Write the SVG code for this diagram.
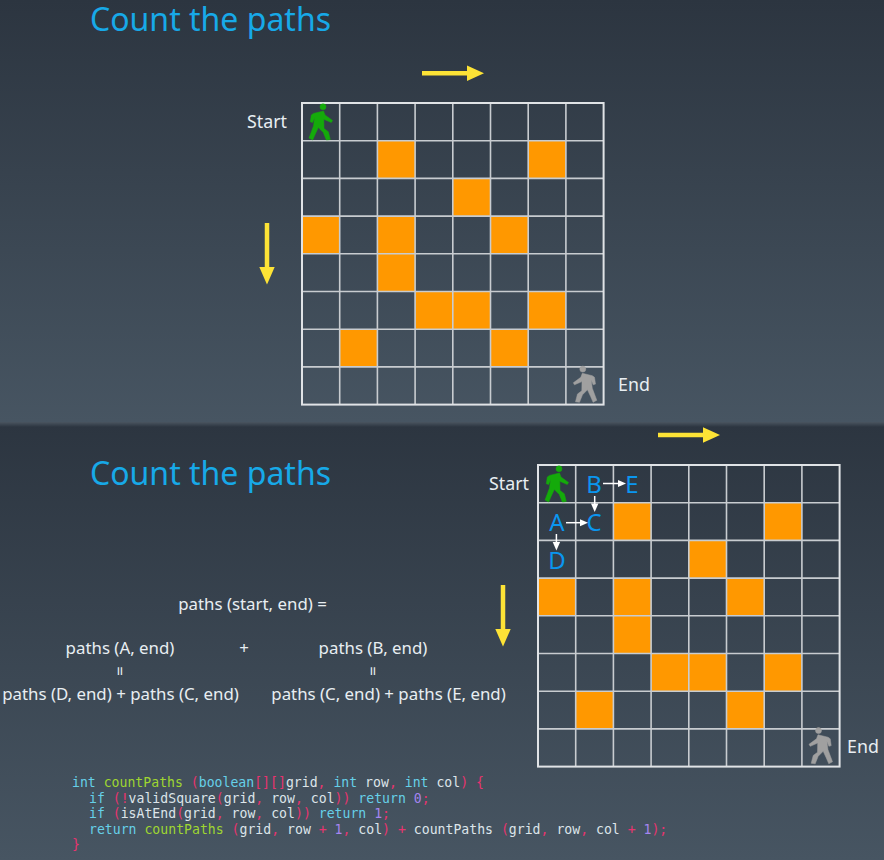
<svg xmlns="http://www.w3.org/2000/svg" width="884" height="860" viewBox="0 0 884 860">
<defs>
<linearGradient id="bg" x1="0" y1="0" x2="0" y2="1"><stop offset="0" stop-color="#2c3540"/><stop offset="1" stop-color="#475562"/></linearGradient>
<linearGradient id="edge" x1="0" y1="0" x2="0" y2="1"><stop offset="0" stop-color="#4a5560"/><stop offset="1" stop-color="#2c3540"/></linearGradient>
<g id="walker" stroke-width="0.500" stroke-linejoin="round">
<circle cx="21" cy="3.800" r="3"/>
<path d="M9.300 12 L11.500 10.400 L21.500 8 L23 12 L30.500 17.500 L29.300 19.500 L21.800 16.300 L22 25.500 L26.300 28.700 L28.300 36.500 L24.300 37 L21.300 29.500 L16.300 24.500 L13.300 31 L10.700 37 L7 35 L11.500 23 L12.600 14.800 L10.600 19.500 L8.300 18.800 Z"/>
</g>
<g id="grid">
<g class="o">
<rect x="75.400" y="37.700"/><rect x="226.200" y="37.700"/><rect x="150.800" y="75.400"/><rect x="0" y="113.100"/><rect x="75.400" y="113.100"/><rect x="188.500" y="113.100"/><rect x="75.400" y="150.800"/><rect x="113.100" y="188.500"/><rect x="150.800" y="188.500"/><rect x="226.200" y="188.500"/><rect x="37.700" y="226.200"/><rect x="188.500" y="226.200"/>
</g>
<path class="gl" d="M0 37.700H301.600M0 75.400H301.600M0 113.100H301.600M0 150.800H301.600M0 188.500H301.600M0 226.200H301.600M0 263.900H301.600M37.700 0V301.600M75.400 0V301.600M113.100 0V301.600M150.800 0V301.600M188.500 0V301.600M226.200 0V301.600M263.900 0V301.600"/>
<rect class="gb" x="0" y="0" width="301.600" height="301.600"/>
</g>
</defs>
<style>
.t{font-family:"Noto Sans","Open Sans",sans-serif;fill:#e8eef2;font-size:16.85px}
.s{font-size:17.8px}
.c{text-anchor:middle}
.h{font-family:"Noto Sans","Open Sans",sans-serif;fill:#17a9e8;font-size:32px}
.l{font-family:"Noto Sans","Open Sans",sans-serif;fill:#0a96f0;font-size:24px;text-anchor:middle}
.o rect{width:37.700px;height:37.700px;fill:#ff9800}
.gl{fill:none;stroke:#c8ccd0;stroke-width:1.6}
.gb{fill:none;stroke:#e0e3e6;stroke-width:2}
.y{stroke:#fde336;stroke-width:4.500;fill:none}
.yh{fill:#fde336}
.w{stroke:#fff;stroke-width:1.500;fill:none}
.wh{fill:#fff}
.m{font-family:"DejaVu Sans Mono",monospace;font-size:13.17px;fill:#dde5ea;white-space:pre}
.k{fill:#66d0e8}.f{fill:#9fd631}.p{fill:#e8336f}.n{fill:#a585f0}
.gw{fill:#14aa0a;stroke:#14aa0a}
.ew{fill:#a0a0a0;stroke:#a0a0a0}
</style>
<rect id="panel1" x="0" y="0" width="884" height="422" fill="url(#bg)"/>
<rect id="panel2" x="0" y="422" width="884" height="438" fill="url(#bg)"/>
<rect x="0" y="422" width="884" height="5" fill="url(#edge)"/>

<g id="title1"><text class="h" x="90" y="31">Count the paths</text></g>
<g id="grid1"><use href="#grid" x="302" y="103"/></g>
<g id="start1"><text class="t s" x="247" y="128">Start</text><use class="gw" href="#walker" x="302" y="103"/></g>
<g id="end1"><text class="t s" x="618" y="391">End</text><use class="ew" href="#walker" transform="translate(603.800 365.300) scale(-1 1)"/></g>

<g id="title2"><text class="h" x="90" y="485">Count the paths</text></g>
<g id="grid2"><use href="#grid" x="538" y="465"/></g>
<g id="start2"><text class="t s" x="489" y="490">Start</text><use class="gw" href="#walker" x="538" y="465"/></g>
<g id="end2"><text class="t s" x="847" y="753">End</text><use class="ew" href="#walker" transform="translate(839.500 726.800) scale(-1 1)"/></g>
<g id="nodeA"><text class="l" x="557" y="531">A</text></g>
<g id="nodeB"><text class="l" x="594" y="493">B</text></g>
<g id="nodeC"><text class="l" x="594" y="531">C</text></g>
<g id="nodeD"><text class="l" x="557" y="569">D</text></g>
<g id="nodeE"><text class="l" x="632" y="493">E</text></g>

<g id="connectors">
<path class="y" d="M422 73.200H468"/><path class="yh" d="M467 65.500 L484 73.200 L467 81Z"/>
<path class="y" d="M267 223V268"/><path class="yh" d="M259.300 267 L267 284.500 L274.700 267Z"/>
<path class="y" d="M658 435H704"/><path class="yh" d="M703 427.300 L720 435 L703 442.700Z"/>
<path class="y" d="M503 585V630"/><path class="yh" d="M495.300 629 L503 646.500 L510.700 629Z"/>
<path class="w" d="M603 483.500H619"/><path class="wh" d="M618 480 L626 483.500 L618 487Z"/>
<path class="w" d="M594.700 496V505"/><path class="wh" d="M591 503.500 L594.700 512 L598.400 503.500Z"/>
<path class="w" d="M566 522.700H581"/><path class="wh" d="M580 519.200 L588 522.700 L580 526.200Z"/>
<path class="w" d="M556.400 534V543"/><path class="wh" d="M552.700 542 L556.400 550.500 L560.100 542Z"/>
</g>

<g id="formula">
<text class="t c" x="252.500" y="610">paths (start, end) =</text>
<text class="t c" x="120" y="654">paths (A, end)</text>
<text class="t c" x="244" y="654">+</text>
<text class="t c" x="373" y="654">paths (B, end)</text>
<text class="t c" transform="translate(119.300 671) rotate(90) translate(0 5)">=</text>
<text class="t c" transform="translate(372 671) rotate(90) translate(0 5)">=</text>
<text class="t c" x="120.500" y="700">paths (D, end) + paths (C, end)</text>
<text class="t c" x="388.500" y="700">paths (C, end) + paths (E, end)</text>
</g>

<g id="code">
<text class="m" x="72" y="787" xml:space="preserve"><tspan class="k">int</tspan> <tspan class="f">countPaths</tspan> <tspan class="p">(</tspan><tspan class="k">boolean</tspan><tspan class="p">[][]</tspan>grid<tspan class="p">,</tspan> <tspan class="k">int</tspan> row<tspan class="p">,</tspan> <tspan class="k">int</tspan> col<tspan class="p">) {</tspan></text>
<text class="m" x="89" y="803" xml:space="preserve"><tspan class="k">if</tspan> <tspan class="p">(!</tspan>validSquare<tspan class="p">(</tspan>grid<tspan class="p">,</tspan> row<tspan class="p">,</tspan> col<tspan class="p">))</tspan> <tspan class="k">return</tspan> <tspan class="n">0</tspan><tspan class="p">;</tspan></text>
<text class="m" x="89" y="818" xml:space="preserve"><tspan class="k">if</tspan> <tspan class="p">(</tspan>isAtEnd<tspan class="p">(</tspan>grid<tspan class="p">,</tspan> row<tspan class="p">,</tspan> col<tspan class="p">))</tspan> <tspan class="k">return</tspan> <tspan class="n">1</tspan><tspan class="p">;</tspan></text>
<text class="m" x="89" y="834" xml:space="preserve"><tspan class="k">return</tspan> <tspan class="f">countPaths</tspan> <tspan class="p">(</tspan>grid<tspan class="p">,</tspan> row <tspan class="p">+</tspan> <tspan class="n">1</tspan><tspan class="p">,</tspan> col<tspan class="p">) +</tspan> countPaths <tspan class="p">(</tspan>grid<tspan class="p">,</tspan> row<tspan class="p">,</tspan> col <tspan class="p">+</tspan> <tspan class="n">1</tspan><tspan class="p">);</tspan></text>
<text class="m p" x="72" y="849">}</text>
</g>
</svg>
